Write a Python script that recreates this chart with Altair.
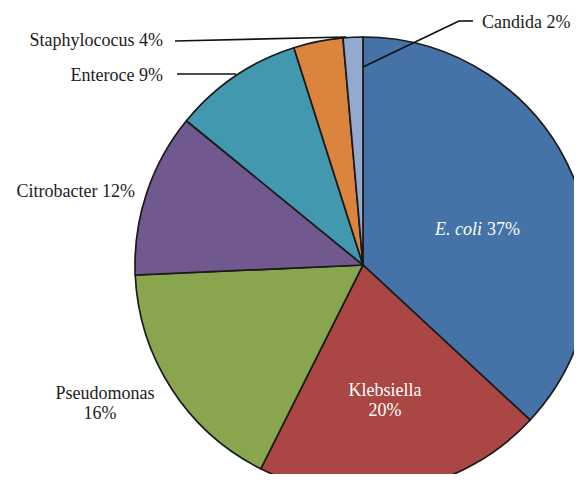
import altair as alt
import pandas as pd

# ---- data ----
categories = ["E. coli", "Klebsiella", "Pseudomonas", "Citrobacter", "Enteroce", "Staphylococus", "Candida"]
shares = [36.9, 20.5, 16.9, 11.6, 9.2, 3.5, 1.4]
pct_labels = ["37%", "20%", "16%", "12%", "9%", "4%", "2%"]
colors = ["#4572A7", "#AA4643", "#89A54E", "#71588F", "#4198AF", "#DB843D", "#93A9CF"]

# ---- layout ----
W, H = 566, 466
CX, CY, R = 355, 257, 228
FONT = "Liberation Serif"
FS = 18
TXT = "#1c1c1c"

df = pd.DataFrame({"category": categories, "share": shares, "order": list(range(len(categories)))})

pie = alt.Chart(df).mark_arc(
    outerRadius=R, stroke="#1a1a1a", strokeWidth=1.7, clip=True
).encode(
    theta=alt.Theta("share:Q", stack=True),
    color=alt.Color("category:N", scale=alt.Scale(domain=categories, range=colors), legend=None),
    order=alt.Order("order:Q"),
    x=alt.value(CX),
    y=alt.value(CY),
)


def text_layer(rows, align, color=TXT, style="normal"):
    d = pd.DataFrame(rows, columns=["t", "x", "y"])
    return alt.Chart(d).mark_text(
        align=align, baseline="alphabetic", font=FONT, fontSize=FS, color=color, fontStyle=style
    ).encode(
        x=alt.X("x:Q", scale=None),
        y=alt.Y("y:Q", scale=None),
        text="t:N",
    )


lbl = {c: f"{c} {p}" for c, p in zip(categories, pct_labels)}

right_labels = text_layer([
    (lbl["Staphylococus"], 155, 38),
    (lbl["Enteroce"], 155, 73),
    (lbl["Citrobacter"], 127, 189),
], "right")

left_labels = text_layer([
    (lbl["Candida"], 474, 20),
], "left")

pseudo = text_layer([
    ("Pseudomonas", 97, 391),
    (pct_labels[2], 92, 411),
], "center")

kleb = text_layer([
    ("Klebsiella", 377, 388),
    (pct_labels[1], 377, 408),
], "center", color="white")

ecoli_name = text_layer([("E. coli", 474, 227)], "right", color="white", style="italic")
ecoli_pct = text_layer([(pct_labels[0], 479, 227)], "left", color="white")

lines = pd.DataFrame({
    "x": [465, 451, 167, 169],
    "y": [13, 13, 33, 66],
    "x2": [451, 355, 338, 228],
    "y2": [13, 59, 29, 66],
})
leaders = alt.Chart(lines).mark_rule(color="#111111", strokeWidth=1.6).encode(
    x=alt.X("x:Q", scale=None),
    y=alt.Y("y:Q", scale=None),
    x2="x2:Q",
    y2="y2:Q",
)

chart = alt.layer(
    pie, leaders, right_labels, left_labels, pseudo, kleb, ecoli_name, ecoli_pct
).properties(
    width=W, height=H, autosize=alt.AutoSizeParams(type="none"), padding=0
).configure_view(stroke=None)

chart.save("out.html", embed_options={"renderer": "svg", "actions": False})
